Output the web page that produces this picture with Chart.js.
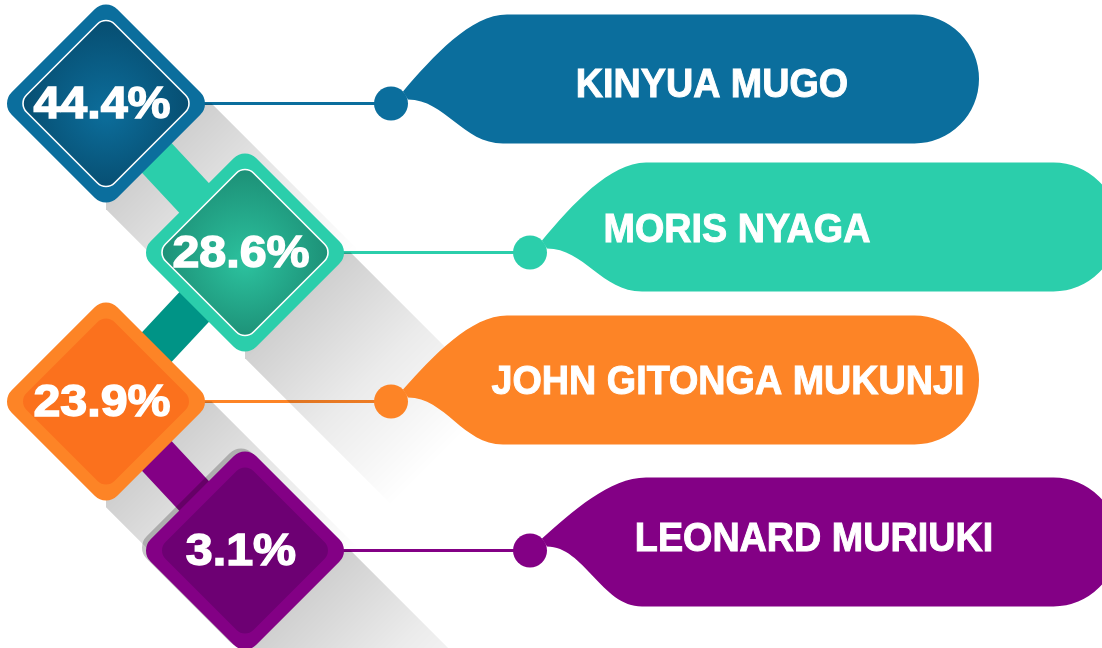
<!DOCTYPE html>
<html>
<head>
<meta charset="utf-8">
<script src="https://cdn.jsdelivr.net/npm/chart.js@4/dist/chart.umd.min.js"></script>
<style>
  html, body { margin: 0; padding: 0; background: #ffffff; }
  canvas { display: block; }
</style>
</head>
<body>
<canvas id="shareChart" width="1102" height="648"></canvas>
<script>
// Data
const names = ['KINYUA MUGO', 'MORIS NYAGA', 'JOHN GITONGA MUKUNJI', 'LEONARD MURIUKI'];
const shares = [44.4, 28.6, 23.9, 3.1];

// Styles
const ringColors = ['#0b6e9d', '#2bceab', '#fd8426', '#830085'];
const coreColors = [['#0c6c99', '#064a6c'], ['#2bbf9c', '#1b8a72'], ['#fb711d', '#fb711d'], ['#6d0073', '#6d0073']];
const linkColors = ['#2bceab', '#009486', '#830085'];
const whiteRim = [true, true, false, false];
const edgeShade = [false, false, false, true];
// layout nudges per row (label offsets from the knob, pill vertical shift)
const labelDx = [321, 207, 337, 284];
const labelDy = [-21, -25, -22, -14];
const pillShift = [-3, -4, 0, 13];

const HALF = 74.7;      // half side of the rotated square
const CORNER = 16;
const KNOB = 285;       // distance diamond centre -> knob

function diamondPath(ctx, cx, cy, a, r) {
    ctx.save();
    ctx.translate(cx, cy);
    ctx.rotate(Math.PI / 4);
    ctx.beginPath();
    ctx.moveTo(-a + r, -a);
    ctx.arcTo(a, -a, a, a, r);
    ctx.arcTo(a, a, -a, a, r);
    ctx.arcTo(-a, a, -a, -a, r);
    ctx.arcTo(-a, -a, a, -a, r);
    ctx.closePath();
    ctx.restore();
}

function pillPath(ctx, cx, cy, top, bot) {
    const rad = (bot - top) / 2;
    const rightX = cx + 588;
    const h = cy - top;
    ctx.beginPath();
    ctx.moveTo(cx + 12, cy - 12);
    ctx.bezierCurveTo(cx + 42, cy - 0.53 * h, cx + 80, top, cx + 116, top);
    ctx.lineTo(rightX - rad, top);
    ctx.arc(rightX - rad, top + rad, rad, -Math.PI / 2, Math.PI / 2);
    ctx.lineTo(cx + 112, bot);
    ctx.bezierCurveTo(cx + 72, bot, cx + 54, cy - 4, cx + 17, cy - 4);
    ctx.closePath();
}

const infographic = {
    id: 'infographic',
    afterDatasetsDraw(chart) {
        const ctx = chart.ctx;
        const pts = chart.getDatasetMeta(0).data.map(p => ({ x: p.x, y: p.y }));
        const ext = HALF * Math.SQRT2;

        // leader lines
        pts.forEach((p, i) => {
            ctx.strokeStyle = ringColors[i];
            ctx.lineWidth = 3;
            ctx.beginPath();
            ctx.moveTo(p.x + 60, p.y);
            ctx.lineTo(p.x + KNOB, p.y);
            ctx.stroke();
        });

        // long shadows
        pts.forEach(p => {
            const d = 230;
            const g = ctx.createLinearGradient(p.x + 50, p.y + 50, p.x + 200, p.y + 200);
            g.addColorStop(0, 'rgba(0,0,0,0.19)');
            g.addColorStop(0.5, 'rgba(0,0,0,0.08)');
            g.addColorStop(1, 'rgba(0,0,0,0)');
            ctx.fillStyle = g;
            ctx.beginPath();
            ctx.moveTo(p.x, p.y);
            ctx.lineTo(p.x + ext, p.y);
            ctx.lineTo(p.x + ext + d, p.y + d);
            ctx.lineTo(p.x + d, p.y + ext + d);
            ctx.lineTo(p.x, p.y + ext);
            ctx.closePath();
            ctx.fill();
        });

        // connectors between diamonds
        for (let i = 0; i < pts.length - 1; i++) {
            ctx.strokeStyle = linkColors[i];
            ctx.lineWidth = 42;
            ctx.lineCap = 'butt';
            ctx.beginPath();
            ctx.moveTo(pts[i].x, pts[i].y);
            ctx.lineTo(pts[i + 1].x, pts[i + 1].y);
            ctx.stroke();
        }

        // tags
        pts.forEach((p, i) => {
            const cx = p.x + KNOB, cy = p.y;
            const top = cy - 86 + pillShift[i];
            const bot = cy + 43 + pillShift[i];
            ctx.fillStyle = ringColors[i];
            pillPath(ctx, cx, cy, top, bot);
            ctx.fill();
            ctx.beginPath();
            ctx.arc(cx, cy, 17, 0, Math.PI * 2);
            ctx.fill();

            ctx.save();
            ctx.translate(cx + labelDx[i], cy + labelDy[i] + 14.7);
            ctx.scale(0.92, 1);
            ctx.fillStyle = '#ffffff';
            ctx.strokeStyle = '#ffffff';
            ctx.lineWidth = 1;
            ctx.font = 'bold 41px "Liberation Sans", Arial, sans-serif';
            ctx.textAlign = 'center';
            ctx.textBaseline = 'alphabetic';
            ctx.fillText(names[i], 0, 0);
            ctx.strokeText(names[i], 0, 0);
            ctx.restore();
        });

        // diamonds
        pts.forEach((p, i) => {
            if (edgeShade[i]) {
                ctx.fillStyle = 'rgba(0,0,0,0.22)';
                diamondPath(ctx, p.x - 4, p.y - 3, HALF, CORNER);
                ctx.fill();
            }
            ctx.fillStyle = ringColors[i];
            diamondPath(ctx, p.x, p.y, HALF, CORNER);
            ctx.fill();

            const g = ctx.createRadialGradient(p.x, p.y + 10, 5, p.x, p.y, 95);
            g.addColorStop(0, coreColors[i][0]);
            g.addColorStop(1, coreColors[i][1]);
            ctx.fillStyle = g;
            diamondPath(ctx, p.x, p.y, HALF - 12.5, CORNER - 4);
            ctx.fill();
            if (whiteRim[i]) {
                ctx.strokeStyle = '#ffffff';
                ctx.lineWidth = 1.6;
                ctx.stroke();
            }

            ctx.save();
            ctx.translate(p.x - 4, p.y - 1 + 15.7);
            ctx.scale(1.1, 1);
            ctx.fillStyle = '#ffffff';
            ctx.strokeStyle = '#ffffff';
            ctx.lineWidth = 1.4;
            ctx.font = 'bold 44px "Liberation Sans", Arial, sans-serif';
            ctx.textAlign = 'center';
            ctx.textBaseline = 'alphabetic';
            const txt = shares[i].toFixed(1) + '%';
            ctx.fillText(txt, 0, 0);
            ctx.strokeText(txt, 0, 0);
            ctx.restore();
        });
    }
};

const ctx = document.getElementById('shareChart').getContext('2d');
const shareChart = new Chart(ctx, {
    type: 'scatter',
    data: {
        datasets: [{
            label: 'Share',
            data: names.map((n, i) => ({ x: i % 2, y: n })),
            pointRadius: 0
        }]
    },
    options: {
        responsive: false,
        animation: false,
        events: [],
        layout: { padding: { left: 106, right: 857, top: 29, bottom: 23 } },
        scales: {
            x: { type: 'linear', min: 0, max: 1, display: false },
            y: { type: 'category', labels: names, offset: true, display: false }
        },
        plugins: {
            legend: { display: false },
            tooltip: { enabled: false }
        }
    },
    plugins: [infographic]
});
</script>
</body>
</html>
